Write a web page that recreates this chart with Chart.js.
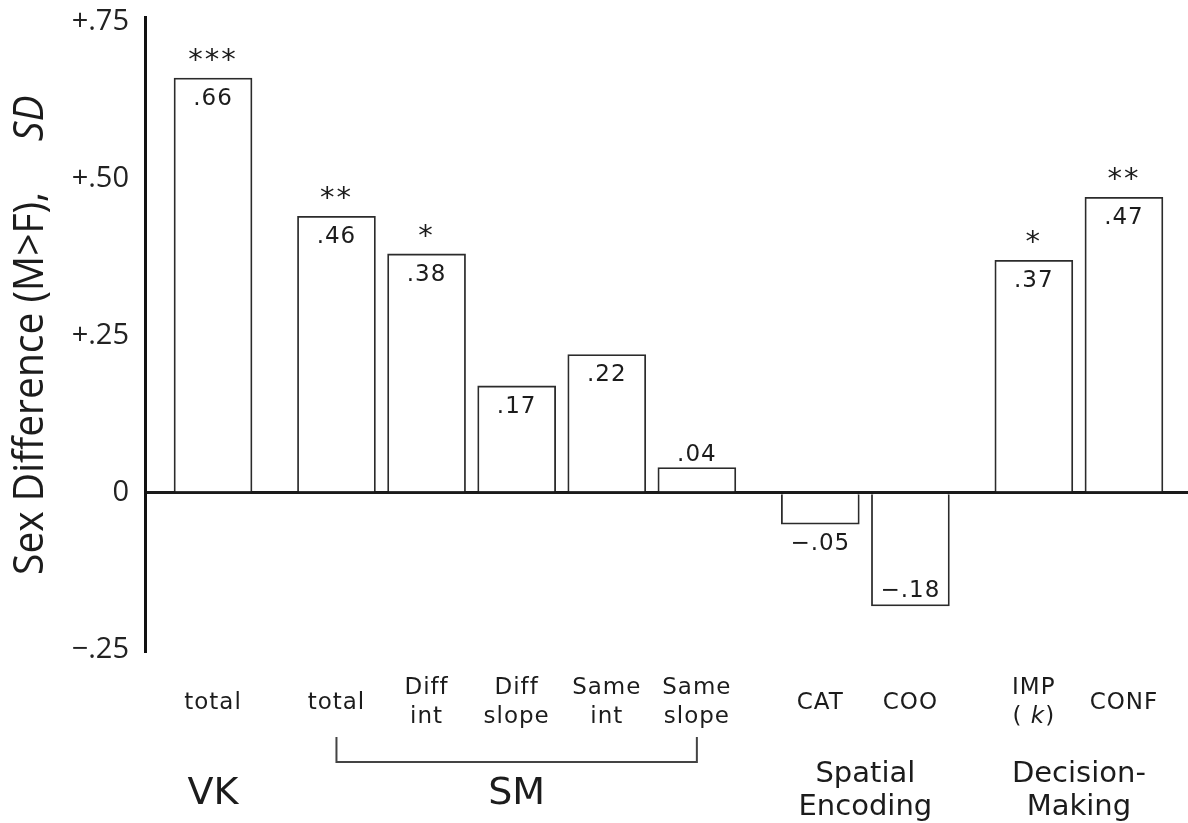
<!DOCTYPE html>
<html>
<head>
<meta charset="utf-8">
<script src="https://cdn.jsdelivr.net/npm/chart.js@4"></script>
<style>
  body { margin: 0; background: #fff; }
  canvas { display: block; }
</style>
</head>
<body>
<canvas id="sexDiffChart" width="1188" height="823"></canvas>
<script>
/* 데이터 */
const categoryLabels = [['total'], ['total'], ['Diff', 'int'], ['Diff', 'slope'], ['Same', 'int'], ['Same', 'slope'], ['CAT'], ['COO'], ['IMP', '( _k_)'], ['CONF']]
const groupOf = [0, 1, 1, 1, 1, 1, 2, 2, 3, 3]
const groupNames = [['VK'], ['SM'], ['Spatial', 'Encoding'], ['Decision-', 'Making']]
const effectSizes = [0.66, 0.44, 0.38, 0.17, 0.22, 0.04, -0.05, -0.18, 0.37, 0.47]
const effectLabels = ['.66', '.46', '.38', '.17', '.22', '.04', '\u2212.05', '\u2212.18', '.37', '.47']
const significance = ['***', '**', '*', '', '', '', '', '', '*', '**']
const yTicks = [-0.25, 0, 0.25, 0.5, 0.75]
const yTickLabels = ['\u2212.25', '0', '+.25', '+.50', '+.75']
const yTitle = 'Sex Difference (M>F),     _SD_'

const groupGap = 0.37
const ink = '#1c1c1c'

/* 글자 그리기 (_ 사이는 이탤릭) */
function drawRuns(ctx, text, x, y, font, italicFont, align) {
	const parts = text.split('_')
	let total = 0
	parts.forEach(function (p, i) {
		ctx.font = (i % 2 ? italicFont : font)
		total += ctx.measureText(p).width
	})
	let cx = align === 'left' ? x : x - total / 2
	ctx.textAlign = 'left'
	parts.forEach(function (p, i) {
		ctx.font = (i % 2 ? italicFont : font)
		ctx.fillText(p, cx, y)
		cx += ctx.measureText(p).width
	})
}

/* 막대 위 숫자, 별표 */
const barLabelPlugin = {
	id: 'barLabels',
	afterDatasetsDraw(chart) {
		const ctx = chart.ctx
		const bars = chart.getDatasetMeta(0).data
		ctx.save()
		ctx.fillStyle = ink
		ctx.textBaseline = 'alphabetic'
		ctx.textAlign = 'center'
		bars.forEach(function (bar, i) {
			const v = effectSizes[i]
			const inside = Math.abs(v) > 0.1
			let ty
			if (v >= 0) {
				ty = inside ? bar.y + 27 : bar.y - 7
			} else {
				ty = inside ? bar.y - 9 : bar.y + 26
			}
			ctx.font = '23px "DejaVu Sans"'
			ctx.letterSpacing = '1px'
			ctx.fillText(effectLabels[i], bar.x, ty)
			if (significance[i]) {
				ctx.font = '29px "DejaVu Sans"'
				ctx.letterSpacing = '2px'
				ctx.fillText(significance[i], bar.x, bar.y - 9)
			}
		})
		ctx.restore()
	}
}

/* 축 제목, 항목 이름, 그룹 이름 */
const axisTextPlugin = {
	id: 'axisText',
	afterDraw(chart) {
		const ctx = chart.ctx
		const xs = chart.scales.x
		ctx.save()
		ctx.fillStyle = ink
		ctx.textBaseline = 'alphabetic'

		// y축 제목
		ctx.save()
		ctx.translate(31, 575)
		ctx.rotate(-Math.PI / 2)
		ctx.scale(1, 1.08)
		ctx.textBaseline = 'middle'
		drawRuns(ctx, yTitle, 0, 0, '39px "Open Sans"', 'italic 39px "Open Sans"', 'left')
		ctx.restore()

		// 항목 이름
		ctx.letterSpacing = '1px'
		const f = '23px "DejaVu Sans"'
		const fi = 'oblique 23px "DejaVu Sans"'
		categoryLabels.forEach(function (lines, i) {
			const px = xs.getPixelForValue(i + groupOf[i] * groupGap)
			if (lines.length === 1) {
				drawRuns(ctx, lines[0], px, 709, f, fi)
			} else {
				drawRuns(ctx, lines[0], px, 694, f, fi)
				drawRuns(ctx, lines[1], px, 723, f, fi)
			}
		})

		// 그룹 이름
		ctx.letterSpacing = '0px'
		groupNames.forEach(function (lines, g) {
			const idx = []
			groupOf.forEach(function (gg, i) { if (gg === g) idx.push(i) })
			const first = xs.getPixelForValue(idx[0] + g * groupGap)
			const last = xs.getPixelForValue(idx[idx.length - 1] + g * groupGap)
			const mid = (first + last) / 2
			if (lines.length === 1) {
				drawRuns(ctx, lines[0], mid, 804, '38px "DejaVu Sans"', '38px "DejaVu Sans"')
			} else {
				drawRuns(ctx, lines[0], mid, 782, '29px "DejaVu Sans"', '29px "DejaVu Sans"')
				drawRuns(ctx, lines[1], mid, 815, '29px "DejaVu Sans"', '29px "DejaVu Sans"')
			}
			// SM 괄호
			if (idx.length > 2) {
				ctx.strokeStyle = '#444'
				ctx.lineWidth = 2
				ctx.beginPath()
				ctx.moveTo(first, 737)
				ctx.lineTo(first, 762)
				ctx.lineTo(last, 762)
				ctx.lineTo(last, 737)
				ctx.stroke()
			}
		})
		ctx.restore()
	}
}

const barPoints = effectSizes.map(function (v, i) {
	return { x: i + groupOf[i] * groupGap, y: v }
})

new Chart(document.getElementById('sexDiffChart'), {
	type: 'bar'
	,data: {
		datasets: [{
			data: barPoints
			,backgroundColor: '#ffffff'
			,borderColor: '#2b2b2b'
			,borderWidth: 1.8
			,barThickness: 78
		}]
	}
	,options: {
		responsive: false
		,animation: false
		,layout: { padding: { top: 17, bottom: 170, left: 0, right: 0 } }
		,plugins: {
			legend: { display: false }
			,tooltip: { enabled: false }
		}
		,scales: {
			x: {
				type: 'linear'
				,display: false
				,offset: false
				,min: -0.755
				,max: 10.821
			}
			,y: {
				min: -0.255
				,max: 0.757
				,z: 1
				,afterFit: function (scale) {
					scale.width = 145
					scale.paddingTop = 0
					scale.paddingBottom = 0
				}
				,afterBuildTicks: function (scale) {
					scale.ticks = yTicks.map(function (v) { return { value: v } })
				}
				,ticks: {
					callback: function (v) {
						const k = yTicks.indexOf(v)
						return k >= 0 ? yTickLabels[k] : ''
					}
					,font: { family: 'Open Sans', size: 29 }
					,color: '#222'
					,padding: 16
				}
				,grid: {
					drawTicks: false
					,color: function (c) { return c.tick && c.tick.value === 0 ? '#1a1a1a' : 'rgba(0,0,0,0)' }
					,lineWidth: function (c) { return c.tick && c.tick.value === 0 ? 3 : 0 }
				}
				,border: { display: true, color: '#111', width: 3 }
			}
		}
	}
	,plugins: [barLabelPlugin, axisTextPlugin]
})
</script>
</body>
</html>
